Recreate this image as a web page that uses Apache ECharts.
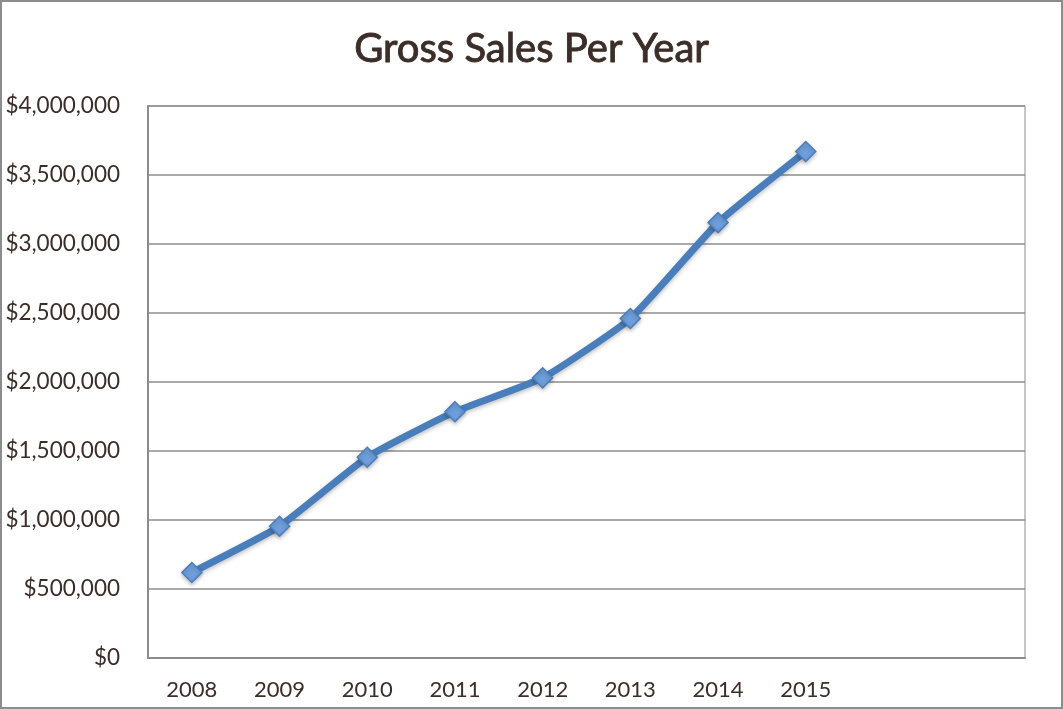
<!DOCTYPE html>
<html><head><meta charset="utf-8">
<script src="https://cdn.jsdelivr.net/npm/echarts@6/dist/echarts.min.js"></script>
<style>html,body{margin:0;padding:0;background:#fff}#c{width:1063px;height:709px;box-sizing:border-box;border:2px solid #8c8c8c}</style>
</head><body><div id="c"></div>
<script>
const categories = ['2008','2009','2010','2011','2012','2013','2014','2015','',' '];
const sales = [620000, 955000, 1455000, 1785000, 2030000, 2460000, 3155000, 3670000];
const yTicks = [0, 500000, 1000000, 1500000, 2000000, 2500000, 3000000, 3500000, 4000000];
const title = 'Gross Sales Per Year';

const chart = echarts.init(document.getElementById('c'), null, {renderer:'canvas'});
const textColor = '#3b2d28';
const font = 'Lato';
chart.setOption({
  animation:false,
  title:{text:title,left:'center',top:22,textStyle:{fontFamily:font,fontSize:40,fontWeight:'normal',color:textColor,
    textBorderColor:textColor,textBorderWidth:0.9}},
  grid:{left:146,right:36,top:104,bottom:49,show:true,borderColor:'#8c8c8c',borderWidth:1},
  xAxis:{type:'category',data:categories,boundaryGap:true,
    axisLine:{lineStyle:{color:'#8c8c8c',width:2}},axisTick:{show:false},
    axisLabel:{fontFamily:font,fontSize:22,color:textColor,margin:21,interval:0}},
  yAxis:{type:'value',min:yTicks[0],max:yTicks[yTicks.length-1],interval:yTicks[1]-yTicks[0],
    axisLine:{show:true,lineStyle:{color:'#8c8c8c',width:2}},axisTick:{show:false},
    splitLine:{lineStyle:{color:'#8c8c8c',width:1.5}},
    axisLabel:{fontFamily:font,fontSize:22.5,color:textColor,margin:28,padding:[6,0,0,0],
      formatter:v=>'$'+v.toLocaleString('en-US')}},
  series:[{type:'line',data:sales,smooth:0.15,
    lineStyle:{color:'#4a7ebb',width:7,shadowColor:'rgba(0,0,0,0.25)',shadowBlur:4,shadowOffsetY:2},
    symbol:'diamond',symbolSize:20,
    itemStyle:{color:'#6e9fdc',borderColor:'#4a7ebb',borderWidth:1.5,shadowColor:'rgba(0,0,0,0.25)',shadowBlur:4,shadowOffsetY:2}}]
});
</script></body></html>
